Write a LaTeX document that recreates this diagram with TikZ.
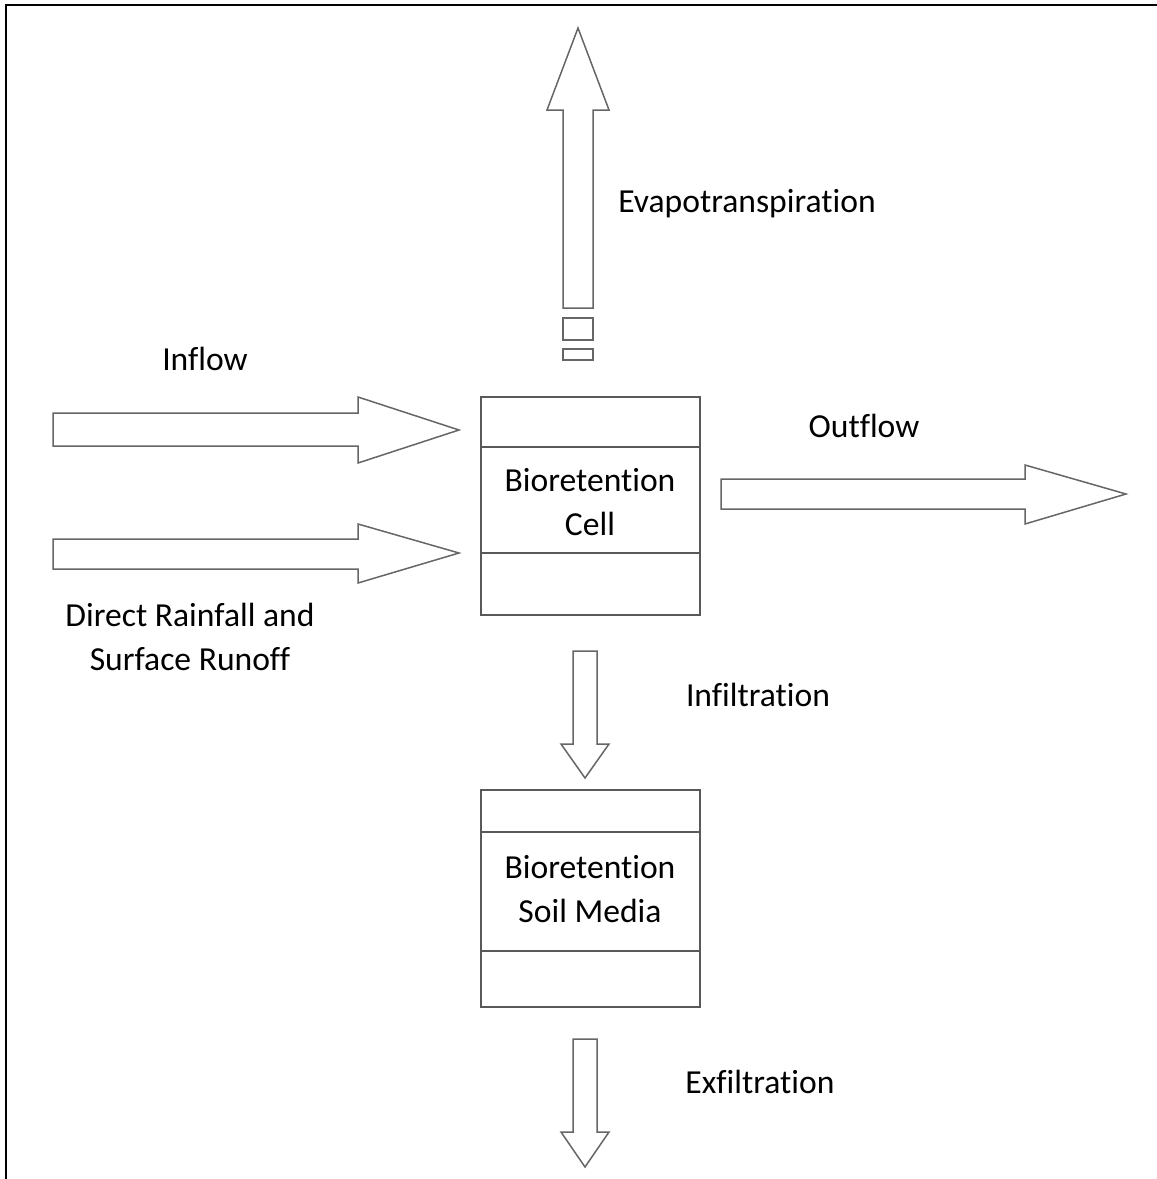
\documentclass[tikz,border=0pt]{standalone}
\usepackage{fontspec}
\setmainfont{Carlito}[Ligatures={NoCommon}]
\usepackage{tikz}
\usetikzlibrary{calc}

\tikzset{
  flowarrow/.style={draw=black!60, line width=0.75pt, fill=white, line join=miter},
  boxline/.style={draw=black!65, line width=0.75pt},
  lbl/.style={font=\fontsize{16.8}{22}\selectfont, align=center, inner sep=0pt},
}

\begin{document}
\begin{tikzpicture}[x=0.5pt, y=-0.5pt]
    \useasboundingbox (0,0) rectangle (1157,1179);

    % frame, top and left only
    \draw[line width=1pt] (6,1179) -- (6,5) -- (1157,5);

    % evapotranspiration arrow and its broken tail
    \draw[flowarrow] (563,308) -- (563,110) -- (547,110) -- (578,28) -- (609,110) -- (593,110) -- (593,308) -- cycle;
    \draw[flowarrow] (563,318) rectangle (593,340);
    \draw[flowarrow] (563,349) rectangle (593,360);

    % inflow arrows
    \draw[flowarrow] (53,413) -- (358,413) -- (358,397) -- (459,430) -- (358,463) -- (358,446) -- (53,446) -- cycle;
    \draw[flowarrow] (53,539) -- (358,539) -- (358,524) -- (459,553) -- (358,583) -- (358,569) -- (53,569) -- cycle;

    % outflow arrow
    \draw[flowarrow] (721,479) -- (1025,479) -- (1025,465) -- (1126,494) -- (1025,524) -- (1025,509) -- (721,509) -- cycle;

    % infiltration and exfiltration arrows
    \draw[flowarrow] (573,651) -- (597,651) -- (597,744) -- (609,744) -- (585,778) -- (561,744) -- (573,744) -- cycle;
    \draw[flowarrow] (573,1039) -- (597,1039) -- (597,1132) -- (609,1132) -- (585,1167) -- (561,1132) -- (573,1132) -- cycle;

    % bioretention cell
    \draw[boxline] (481,397) rectangle (700,615);
    \draw[boxline] (481,447) -- (700,447);
    \draw[boxline] (481,553) -- (700,553);
    \node[lbl] (cell) at (590,502) {Bioretention\\Cell};

    % soil media
    \draw[boxline] (481,790) rectangle (700,1007);
    \draw[boxline] (481,832) -- (700,832);
    \draw[boxline] (481,951) -- (700,951);
    \node[lbl] (soil) at (590,889) {Bioretention\\Soil Media};

    % labels
    \node[lbl] (evap) at (747,204) {Evapotranspiration};
    \node[lbl] (inflow) at (205,359) {Inflow};
    \node[lbl] (outflow) at (864,426) {Outflow};
    \node[lbl] (rain) at (190,637) {Direct Rainfall and\\Surface Runoff};
    \node[lbl] (infil) at (758,695) {Infiltration};
    \node[lbl] (exfil) at (760,1082) {Exfiltration};
\end{tikzpicture}
\end{document}
